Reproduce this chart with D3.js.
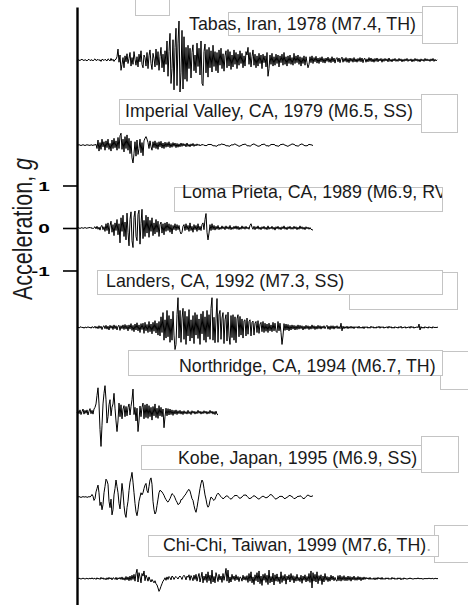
<!DOCTYPE html>
<html>
<head>
<meta charset="utf-8">
<script src="https://cdn.jsdelivr.net/npm/d3@7"></script>
<style>
  body { margin: 0; background: #fff; }
  svg { display: block; }
</style>
</head>
<body>
<svg id="chart" width="468" height="605"></svg>
<script>
// acceleration records in 0.01 g, one sample every 0.2 s
var dt = 0.2;

var events = [
  "Tabas, Iran, 1978 (M7.4, TH)",
  "Imperial Valley, CA, 1979 (M6.5, SS)",
  "Loma Prieta, CA, 1989 (M6.9, RV)",
  "Landers, CA, 1992 (M7.3, SS)",
  "Northridge, CA, 1994 (M6.7, TH)",
  "Kobe, Japan, 1995 (M6.9, SS)",
  "Chi-Chi, Taiwan, 1999 (M7.6, TH)"
];

// baseline shift of each record, in g
var offsets = [3.95, 1.95, 0, -2.34, -4.34, -6.33, -8.25];

var tickValues = [-1, 0, 1];

var tabas = [0,1,0,-1,1,2,0,-1,1,0,-2,1,2,-1,0,1,-2,1,3,-1,0,2,-1,1,-3,2,1,-1,2,0,-2,3,1,-2,4,-1,2,-3,1,2,
  8,26,-5,12,-24,-10,6,-18,10,-4, 15,-8,4,18,-14,6,-10,20,2,-12, 8,-16,14,-4,22,-10,-18,12,6,-14,
  18,-20,10,24,-8,-22,16,4,-16,26, -12,20,-24,8,30,-18,14,-28,22,-10, 45,-38,20,63,-55,-20,48,-70,30,75,
  -60,40,92,-75,-30,70,-68,55,-45,30, -50,35,-20,28,-42,18,36,-25,12,-30, 40,-15,28,-35,45,-55,-60,20,38,-30,
  25,-40,30,-18,22,-28,35,-15,20,-25, 18,-30,24,-12,28,-20,15,-26,10,22, -18,25,-14,20,-22,12,-16,24,-10,18,
  -20,14,-12,22,-8,16,-18,10,-14,20, 12,30,-10,18,-16,8,24,-12,14,-18, 10,-14,16,-8,12,-20,14,-6,10,-16,
  18,-38,-20,12,-10,16,-14,8,-12,14, -8,12,-16,10,-6,14,-12,18,-10,8, -14,10,-8,12,-10,6,-12,16,-8,10,
  -6,12,-10,8,-14,6,-8,10,-12,8, -6,-18,-10,8,-6,10,-8,6,-4,9, -7,5,-8,6,-4,8,-6,4,-7,5,
  -3,7,-5,4,-6,8,-4,5,-7,3, 6,-4,5,-6,3,7,-5,4,-3,6, -5,4,-6,5,-3,4,-5,6,-4,3,
  -5,4,-3,6,-4,5,-6,3,4,-5, 3,-4,6,-3,5,-4,3,-5,4,-3, 5,-4,3,-2,4,-5,3,-3,4,-2,
  3,-4,5,-3,2,-4,3,-2,4,-3, 2,-3,4,-2,3,-4,2,-3,3,-2, 4,-3,2,-2,3,-4,2,-3,4,-2,
  3,-3,2,-4,3,-2,2,-3,4,-2, 3,-2,2,-3,3,-2,4,-3,2,-2,1];

var imperial = [0,0,1,0,-1,0,1,0,-1,0,1,0,0,-1,1,0,-1,1,0,2,
  -8,12,-14,6,-10,14,-4,8,-12,10, -6,14,-10,4,-14,12,-8,16,-6,10, -12,18,-8,22,28,-10,14,-16,20,-8,
  24,-12,16,-20,10,-30,-42,-20,8,-26, 12,-22,-8,14,-18,6,-25,10,16,20, 14,6,-8,10,-4,-12,8,-6,10,-8,
  6,-10,8,-4,9,-7,5,-8,7,-5, 6,-4,8,-6,4,-5,6,-3,5,-6, 4,-5,3,-4,5,-3,4,-2,3,-4,
  5,-3,2,-4,3,-2,4,-3,2,-2, 3,-1,2,-2,1,0,2,-1,0,-2,
  0,1,2,1,2,0,-1,-2,-1,-3, -2,0,1,0,2,3,1,2,0,-1, -2,-1,-3,-2,0,1,0,2,3,1,
  0,-1,-3,-2,-1,0,2,1,3,1, -1,-2,-1,-3,-1,1,2,3,1,0, -1,-3,-2,-2,0,2,1,3,1,-1,
  -2,-1,-3,0,1,2,1,2,0,-2, -1,-3,-2,0,2,1,3,1,0,-1, -2,-3,-1,0,1,3,2,2,0,-2,
  -1,-3,-1,1,2,3,1,0,-2,-1, -2,0,2,1,1,0,-1];

var lomaPrieta = [0,1,0,-1,0,1,-1,0,1,0,-1,1,0,2,-1,1,-2,1,
  3,-2,4,-3,2,-5,4,6,-4,3, -8,10,-6,12,-14,5,16,-10,8,-18, 12,-6,20,-16,10,-35,24,-8,30,-20,
  14,-28,35,-10,-42,20,38,-30,-46,25, 40,-20,-30,32,42,-38,10,44,-25,18, -20,30,-12,26,-22,18,-8,24,-18,12,
  -14,20,-10,16,-20,8,14,-12,10,-16, 12,-8,14,-6,10,-10,8,-14,6,-4, 10,-6,8,-4,6,-8,-14,-10,4,8,
  -6,10,-4,6,-8,12,-6,4,-10,8, -4,6,-8,10,-5,4,-6,8,12,-4, 20,34,-10,-28,-12,8,-6,10,-4,6,
  -5,4,-3,6,-4,2,-3,5,-2,3, -4,5,-2,3,-3,6,-4,2,-3,4, -2,5,-3,4,-4,2,-3,5,-2,3,
  -3,4,-2,2,-3,6,10,2,-3,4, -4,3,-2,5,-3,2,-4,3,-2,4, -3,2,-4,5,-3,2,-2,4,-3,2,
  -5,3,-2,4,-3,2,-4,3,-2,5, -3,2,-4,3,-2,4,-3,2,-3,4, -2,3,-4,2,-3,5,-2,3,-3,2,
  -4,3,-2,2,-3,1,-3,-4,-5];

var landers = [0,1,-1,0,2,-1,1,-2,1,0,-1,2,-1,1,-2,2,0,-1,3,-2,
  2,-3,4,-2,3,-5,2,4,-3,5, -4,3,-6,5,-2,4,-5,6,-3,4, -6,3,5,-7,4,-3,6,-5,7,-4,
  5,-8,6,-4,9,-7,5,-10,8,-6, 11,-8,6,-12,9,-5,10,-14,12,-8, 7,-12,14,-10,8,-15,12,-9,16,-13,
  10,-18,14,-20,25,-12,35,-30,18,-25, 40,-22,28,-35,20,-30,38,-18,-52,-40, 30,70,-25,40,-35,22,45,-28,38,-40,
  26,-20,42,-32,18,-25,28,-38,35,-18, 30,-26,20,-40,32,-15,38,-30,25,-35, 40,-22,30,-28,45,70,-30,24,-36,20,
  68,-35,30,40,-28,22,35,-38,18,30, -32,36,-20,-40,28,-24,30,-30,25,-36, 20,30,-22,26,-18,20,-25,16,18,-20,
  22,-16,14,18,-20,12,15,-18,10,14, -12,16,-14,8,12,-10,14,-12,10,-9, 8,-12,10,-8,6,-10,12,-8,10,-9,
  -12,14,-8,10,-12,-40,-20,9,-7,8, -6,7,-8,5,-6,6,-4,5,-6,4, -5,6,-4,5,-3,4,-6,3,-4,5,
  -3,4,-5,3,-4,6,-3,4,-5,3, -4,5,-3,4,-4,3,-2,4,-3,2, 5,-4,3,-5,4,-3,4,-4,3,-2,
  4,-3,2,-3,10,-8,3,-3,2,-2, 3,-3,2,-2,3,-2,2,-3,2,-1, 2,-2,3,-2,1,-2,2,-3,2,-1,
  2,-2,1,-2,3,-1,2,-2,1,-2, 2,-1,3,-2,2,-1,2,-2,1,-1, 2,-2,3,-1,2,-2,1,-2,2,-1,
  1,-2,2,-1,3,-2,1,-1,2,-2, 1,-1,2,-2,3,-1,2,-2,1,-1, 2,-1,8,-6,2,-2,1,-2,2,-1,
  1,-2,2,-1,1,-2,2,-1,1,-1,1,0];

var northridge = [0,4,-3,6,-5,2,8,-4,5,-2, 6,-6,3,9,-3,5,-4,8,12,20,
  40,58,20,-40,-80,-30,20,45,63,30, -25,-10,18,30,-8,12,20,45,10,-20, -45,-20,22,-10,18,-15,8,16,-10,14,
  -8,12,20,-6,14,30,55,-5,12,-20, 10,-45,-20,15,-10,12,22,-15,18,-12, 20,-14,16,-10,12,-18,14,-8,20,-12,
  10,-14,16,-8,12,-10,8,-36,-10,10, -8,9,-6,8,-5,6,-7,5,-4,6, -5,4,-3,5,-4,3,-5,4,-3,2,
  -4,5,-3,2,-5,4,-2,3,-4,2, -3,5,-2,3,-4,2,-3,4,-2,3, -4,2,-3,5,-2,3,-4,2,-5,3,-4,-6];

var kobe = [0,0,1,0,-1,0,1,0,0,1,-1,0,1,0,2,
  6,2,-8,-4,12,20,28,10,-20,-12, -30,-18,10,25,42,38,30,-10,-25,-5, -42,-30,5,20,40,25,10,-15,-28,0,
  32,12,-20,-40,-48,-25,-10,15,35,45, 58,35,10,-15,-35,-44,-30,-10,0,10, 5,10,20,28,32,15,10,25,40,45,
  30,-10,-30,-40,-35,-20,-5,10,16,14, 12,8,4,-2,-6,-10,-12,-8,-4,2, 8,6,3,-2,-8,-12,-18,-16,-14,-6,
  -6,-2,2,4,8,12,16,18,14,5, -4,-8,-20,-30,-36,-25,-10,5,20,32, 40,35,20,5,-5,-18,-24,-20,-8,0,
  -2,-6,-8,-5,1,6,9,7,3,1, -2,-4,-3,0,2,3,1,-1,-4,-5, -3,-1,2,4,3,4,1,-2,-3,-2,
  0,3,5,4,5,2,-1,-3,-4,-2, -1,2,3,2,0,-2,-4,-5,-3,-1, 1,2,1,-1,-2,-1,0,3,5,6,
  4,2,-1,-4,-5,-3,-2,0,2,1, 2,0,-3,-4,-2,-1,1,3,4,2, 1,-1,-4,-3,-2,0,2,1,3,2,
  -1,-3,-4,-2,1,3,5,3,2,1,2,3];

var chiChi = [0,0,1,0,-1,0,1,0,-1,0,1,-1,0,1,-1,2,-1,0,1,-2,
  2,-1,1,-2,3,-1,2,-2,1,-3, 2,-2,3,-1,2,-3,2,1,-2,3, -3,2,-1,3,-2,4,-3,2,-4,5,
  -3,4,-5,6,-4,8,-2,10,-6,12, 22,-8,14,4,-10,12,6,18,-5,8, 2,-6,4,-3,-8,-2,-6,-10,-5,-12,
  -15,-22,-30,-25,-18,-12,-6,-3,2,-4,
  4,-2,5,2,-3,6,4,-2,3,5, 2,-1,4,6,3,-2,5,8,4,-3, 6,3,9,-4,7,2,-5,8,-2,10,
  -6,4,12,-8,3,15,-10,6,-4,11, -9,16,-5,8,-12,20,-8,5,-10,14, 4,-7,10,-3,6,-9,12,-4,8,24,
  -6,20,-10,4,-8,10,-2,6,-5,9, -3,5,-7,4,2,-6,8,-3,5,-4, 7,-9,12,-6,16,-10,4,-14,9,-5,
  14,-8,18,-12,6,-16,10,-4,12,-9, 8,-14,20,-10,5,-8,13,-15,9,-6, 11,-7,4,-12,16,-9,7,-5,10,-13,
  6,-3,9,-8,12,-4,7,-10,5,-6, 10,-5,3,-7,8,-11,6,-4,9,-8, 5,-6,12,-9,18,-22,14,-6,10,-8,
  16,-12,7,-5,9,-14,6,-8,12,-4, 5,-7,4,-6,8,-3,6,-5,3,-4, -6,7,-5,8,-6,5,-4,7,-5,4,
  -5,6,-4,5,-6,4,-3,6,-4,3, -4,5,-3,4,-5,3,-3,4,-2,3,
  -1,2,-2,3,-2,1,-2,2,-3,2, -2,3,-1,2,-2,3,-2,1,-2,2, -1,2,-2,1,-2,3,-1,2,-2,1,
  -2,2,-1,2,-3,1,-2,2,-1,1, -2,1,-1,2,-1,1,-2,1,-1,1, -1,2,-1,1,-1,1,-2,1,-1,1,
  -1,1,0,1,-1,1,0,-1,1,0,0,0];

var records = [tabas, imperial, lomaPrieta, landers, northridge, kobe, chiChi];

// label boxes (layout only): text anchor, box, the offset box behind it
var labelLayout = [
  {tx: 189, ty: 30,  box: [228, 12, 422, 35],  back: [422, 6, 457, 43]},
  {tx: 125, ty: 117, box: [119, 99, 421, 124], back: [421, 94, 457, 132]},
  {tx: 182, ty: 198, box: [174, 187, 442, 211], back: null, clip: true},
  {tx: 106, ty: 287, box: [97, 270, 442, 294],  back: [349, 272, 457, 309]},
  {tx: 179, ty: 372, box: [128, 350, 442, 375], back: [440, 351, 470, 389]},
  {tx: 178, ty: 464, box: [141, 445, 421, 469], back: [421, 436, 458, 472]},
  {tx: 163, ty: 551, box: [148, 535, 438, 556], back: [434, 525, 470, 562]}
];

var svg = d3.select("#chart");

var x = d3.scaleLinear().domain([0, 72]).range([77, 437]);
var y = d3.scaleLinear().domain([-8.871, 5.2]).range([605, 7]);

// boxes
var boxG = svg.append("g");
function rectOf(g, b) {
  return g.append("rect")
    .attr("x", b[0] + 0.5).attr("y", b[1] + 0.5)
    .attr("width", b[2] - b[0]).attr("height", b[3] - b[1])
    .attr("fill", "#fff").attr("stroke", "#c4c4c4").attr("stroke-width", 1);
}
rectOf(boxG, [135, -1, 169, 15]);
labelLayout.forEach(function (l, i) {
  if (l.back) rectOf(boxG, l.back);
  rectOf(boxG, l.box);
  if (l.clip) {
    svg.append("clipPath").attr("id", "clip" + i)
      .append("rect")
      .attr("x", l.box[0]).attr("y", l.box[1] - 5)
      .attr("width", l.box[2] - l.box[0]).attr("height", l.box[3] - l.box[1] + 10);
  }
  var t = boxG.append("text")
    .attr("x", l.tx).attr("y", l.ty)
    .attr("font-family", "Liberation Sans, Arial, sans-serif")
    .attr("font-size", "17.8px")
    .attr("fill", "#1a1a1a")
    .text(events[i]);
  if (l.clip) t.attr("clip-path", "url(#clip" + i + ")");
  if (i === 6) t.append("tspan").attr("fill", "#aaa").text(".");
});

// traces
var line = d3.line()
  .x(function (d, i) { return x(i * dt); })
  .y(function (d) { return y(d.v / 100 + d.off); });

svg.append("g").selectAll("path")
  .data(records)
  .enter()
  .append("path")
  .attr("fill", "none")
  .attr("stroke", "#000")
  .attr("stroke-width", 1)
  .attr("stroke-linejoin", "round")
  .attr("d", function (r, k) {
    return line(r.map(function (v) { return {v: v, off: offsets[k]}; }));
  });

// axis
var axis = svg.append("g")
  .attr("transform", "translate(77,0)")
  .call(d3.axisLeft(y)
    .tickValues(tickValues)
    .tickSize(14)
    .tickSizeOuter(0)
    .tickFormat(function (d) { return String(d); }));

axis.select(".domain").attr("stroke", "#000").attr("stroke-width", 2.4);
axis.selectAll(".tick line").attr("stroke", "#000").attr("stroke-width", 1.6);
axis.selectAll(".tick text")
  .attr("x", -17)
  .attr("dy", "0.36em")
  .attr("transform", "scale(1.6,1)")
  .attr("font-family", "Liberation Sans, Arial, sans-serif")
  .attr("font-size", "13px")
  .attr("font-weight", "bold")
  .attr("fill", "#000");

// y label
var ylab = svg.append("text")
  .attr("transform", "translate(32,229) scale(1.3,1) rotate(-90)")
  .attr("text-anchor", "middle")
  .attr("font-family", "Liberation Sans, Arial, sans-serif")
  .attr("font-size", "21.5px")
  .attr("fill", "#1a1a1a");
ylab.append("tspan").text("Acceleration, ");
ylab.append("tspan").attr("font-style", "italic").text("g");
</script>
</body>
</html>
